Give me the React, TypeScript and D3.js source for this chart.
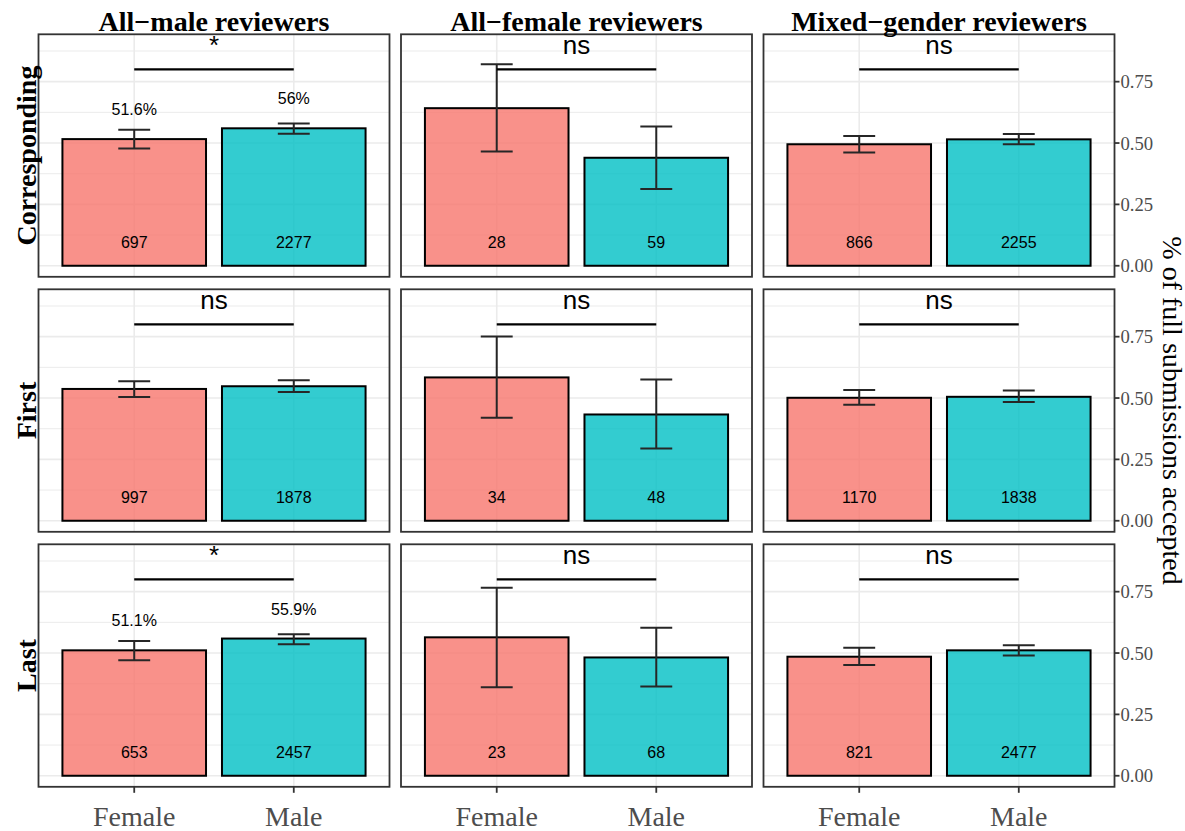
import React from "react";
import * as d3 from "d3";

const reviewerGroups = ["All\u2212male reviewers", "All\u2212female reviewers", "Mixed\u2212gender reviewers"];
const authorPositions = ["Corresponding", "First", "Last"];
const genders = ["Female", "Male"];

// acceptance rate, rows = author position, cols = reviewer group
const meanFemale = [
  [0.516, 0.642, 0.495],
  [0.537, 0.584, 0.501],
  [0.511, 0.564, 0.485],
];
const meanMale = [
  [0.56, 0.44, 0.515],
  [0.548, 0.433, 0.505],
  [0.559, 0.482, 0.511],
];
const ciFemale = [
  [[0.478, 0.554], [0.465, 0.821], [0.461, 0.529]],
  [[0.504, 0.568], [0.42, 0.751], [0.473, 0.533]],
  [[0.471, 0.549], [0.361, 0.766], [0.451, 0.522]],
];
const ciMale = [
  [[0.538, 0.58], [0.313, 0.567], [0.495, 0.537]],
  [[0.525, 0.572], [0.294, 0.575], [0.484, 0.531]],
  [[0.536, 0.577], [0.364, 0.603], [0.49, 0.532]],
];
const nFemale = [
  [697, 28, 866],
  [997, 34, 1170],
  [653, 23, 821],
];
const nMale = [
  [2277, 59, 2255],
  [1878, 48, 1838],
  [2457, 68, 2477],
];
const signif = [
  ["*", "ns", "ns"],
  ["ns", "ns", "ns"],
  ["*", "ns", "ns"],
];
const yTicks = [0, 0.25, 0.5, 0.75];
const yMinor = [0.125, 0.375, 0.625, 0.875];

const colors = ["#F8766D", "#00BFC4"];
const SERIF = "'Liberation Serif', 'Times New Roman', serif";
const SANS = "'Liberation Sans', Arial, sans-serif";

const W = 1185;
const H = 831;
const colLeft = [38.5, 401, 763.5];
const panelW = 351;
const rowTop = [34.3, 289.3, 544.3];
const panelH = 242.5;

function Panel({ r, c }: { r: number; c: number }) {
  const x0 = colLeft[c];
  const y0 = rowTop[r];
  const x = d3.scalePoint<string>().domain(genders).range([x0, x0 + panelW]).padding(0.6);
  const step = x.step();
  const y = d3.scaleLinear().domain([-0.045, 0.943]).range([y0 + panelH, y0]);
  const means = [meanFemale[r][c], meanMale[r][c]];
  const cis = [ciFemale[r][c], ciMale[r][c]];
  const ns = [nFemale[r][c], nMale[r][c]];
  const sig = signif[r][c];
  const bw = step * 0.9;
  const cw = step * 0.2;
  return (
    <g>
      <rect x={x0} y={y0} width={panelW} height={panelH} fill="#fff" />
      {yMinor.map((t) => (
        <line key={"mi" + t} x1={x0} x2={x0 + panelW} y1={y(t)} y2={y(t)} stroke="#ebebeb" strokeWidth={1} />
      ))}
      {yTicks.map((t) => (
        <line key={"ma" + t} x1={x0} x2={x0 + panelW} y1={y(t)} y2={y(t)} stroke="#ebebeb" strokeWidth={1.6} />
      ))}
      {genders.map((g) => (
        <line key={"v" + g} x1={x(g)} x2={x(g)} y1={y0} y2={y0 + panelH} stroke="#ebebeb" strokeWidth={1.6} />
      ))}
      {genders.map((g, i) => (
        <rect
          key={"b" + g}
          x={(x(g) as number) - bw / 2}
          y={y(means[i])}
          width={bw}
          height={y(0) - y(means[i])}
          fill={colors[i]}
          fillOpacity={0.8}
          stroke="#000"
          strokeWidth={2}
        />
      ))}
      {genders.map((g, i) => {
        const cx = x(g) as number;
        return (
          <g key={"e" + g} stroke="#262626" strokeWidth={2}>
            <line x1={cx} x2={cx} y1={y(cis[i][0])} y2={y(cis[i][1])} />
            <line x1={cx - cw / 2} x2={cx + cw / 2} y1={y(cis[i][0])} y2={y(cis[i][0])} />
            <line x1={cx - cw / 2} x2={cx + cw / 2} y1={y(cis[i][1])} y2={y(cis[i][1])} />
          </g>
        );
      })}
      {genders.map((g, i) => (
        <text key={"n" + g} x={x(g)} y={y(0.095)} dy="0.35em" textAnchor="middle" fontFamily={SANS} fontSize={16} fill="#000">
          {ns[i]}
        </text>
      ))}
      {sig === "*" &&
        genders.map((g, i) => (
          <text key={"p" + g} x={x(g)} y={y(means[i] + 0.12)} dy="0.35em" textAnchor="middle" fontFamily={SANS} fontSize={16} fill="#000">
            {`${+(means[i] * 100).toFixed(1)}%`}
          </text>
        ))}
      <line x1={x("Female")} x2={x("Male")} y1={y(0.8)} y2={y(0.8)} stroke="#000" strokeWidth={2.2} />
      <text
        x={((x("Female") as number) + (x("Male") as number)) / 2}
        y={y(0.861)}
        textAnchor="middle"
        fontFamily={SANS}
        fontSize={26}
        fill="#000"
      >
        {sig}
      </text>
      <rect x={x0} y={y0} width={panelW} height={panelH} fill="none" stroke="#333" strokeWidth={1.8} />
      {r === 2 &&
        genders.map((g) => (
          <g key={"xt" + g}>
            <line x1={x(g)} x2={x(g)} y1={y0 + panelH} y2={y0 + panelH + 6} stroke="#333" strokeWidth={1.8} />
            <text x={x(g)} y={826} textAnchor="middle" fontFamily={SERIF} fontSize={28} fill="#4d4d4d">
              {g}
            </text>
          </g>
        ))}
      {c === 2 &&
        yTicks.map((t) => (
          <g key={"yt" + t}>
            <line x1={x0 + panelW} x2={x0 + panelW + 5} y1={y(t)} y2={y(t)} stroke="#333" strokeWidth={1.8} />
            <text x={x0 + panelW + 6} y={y(t)} dy="0.35em" textAnchor="start" fontFamily={SERIF} fontSize={18.7} fill="#4d4d4d">
              {d3.format(".2f")(t)}
            </text>
          </g>
        ))}
    </g>
  );
}

export default function App() {
  const rows = [0, 1, 2];
  const cols = [0, 1, 2];
  return (
    <svg width={W} height={H} style={{ position: "absolute", left: 0, top: 0, background: "#fff" }}>
      <rect x={0} y={0} width={W} height={H} fill="#fff" />
      {rows.map((r) => cols.map((c) => <Panel key={r + "-" + c} r={r} c={c} />))}
      {reviewerGroups.map((g, c) => (
        <text key={g} x={colLeft[c] + panelW / 2} y={31} textAnchor="middle" fontFamily={SERIF} fontWeight="bold" fontSize={28} fill="#000">
          {g}
        </text>
      ))}
      {authorPositions.map((p, r) => (
        <text
          key={p}
          transform={`translate(35.5, ${rowTop[r] + panelH / 2}) rotate(-90)`}
          textAnchor="middle"
          fontFamily={SERIF}
          fontWeight="bold"
          fontSize={28}
          fill="#000"
        >
          {p}
        </text>
      ))}
      <text
        transform={`translate(1163, ${(rowTop[0] + rowTop[2] + panelH) / 2}) rotate(90)`}
        textAnchor="middle"
        fontFamily={SERIF}
        fontSize={28}
        fill="#000"
      >
        % of full submissions accepted
      </text>
    </svg>
  );
}
